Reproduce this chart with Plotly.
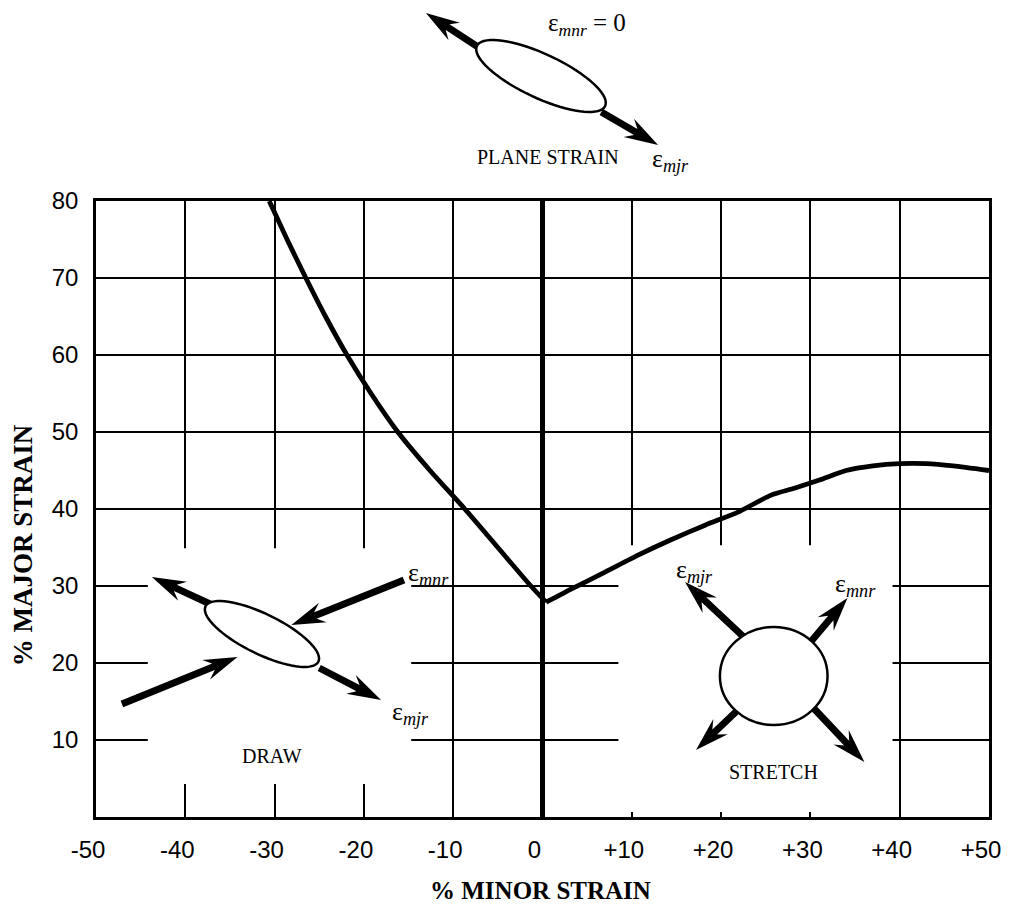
import numpy as np
import plotly.graph_objects as go

# forming limit curve, % minor strain vs % major strain
minor_strain = [-30.6, -28.6, -26.5, -24.3, -21.9, -19.2, -16.2, -12.6, -8.7, -5.0, -1.3, 0.4,
                3.2, 7.0, 10.7, 14.4, 18.2, 21.9, 25.6, 28.2, 31.1, 34.0, 37.0, 40.0, 43.0, 46.0, 50.0]
major_strain = [80.0, 75.0, 70.0, 65.0, 60.0, 55.0, 50.0, 45.0, 40.0, 35.0, 30.0, 27.9,
                29.6, 31.8, 34.0, 36.0, 37.9, 39.6, 41.8, 42.7, 43.8, 45.0, 45.6, 45.9, 45.9, 45.6, 45.0]
vertex = 11  # index of the plane-strain point

x_ticks = [-50, -40, -30, -20, -10, 0, 10, 20, 30, 40, 50]
x_tick_labels = ["-50", "-40", "-30", "-20", "-10", "0", "+10", "+20", "+30", "+40", "+50"]
y_ticks = [10, 20, 30, 40, 50, 60, 70, 80]
y_tick_labels = ["10", "20", "30", "40", "50", "60", "70", "80"]

# page body has an 8px margin, so the figure is offset by that much
OFF = 8
W, H = 1013 - OFF, 909 - OFF
L, R, T, B = 96, 992, 201, 817  # plot area in page pixels

SANS = "Liberation Sans, Arial, sans-serif"
SERIF = "Liberation Serif, Times New Roman, serif"


def px(x):
    return (x - L) / (R - L)


def py(y):
    return (B - y) / (B - T)


def to_path(points):
    return "M" + "L".join(f"{px(x):.5f},{py(y):.5f}" for x, y in points) + "Z"


def ellipse_path(cx, cy, a, b, deg):
    t = np.linspace(0, 2 * np.pi, 73)
    th = np.radians(deg)
    xs = cx + a * np.cos(t) * np.cos(th) - b * np.sin(t) * np.sin(th)
    ys = cy + a * np.cos(t) * np.sin(th) + b * np.sin(t) * np.cos(th)
    return to_path(list(zip(xs, ys)))


def arrow(tail, tip, head=34, half=10.5, notch=8, thick=3.5):
    """Filled barbed arrow, tail -> tip, in page pixels."""
    tail, tip = np.array(tail, float), np.array(tip, float)
    u = (tip - tail) / np.linalg.norm(tip - tail)
    n = np.array([-u[1], u[0]])
    join = tip - u * (head - notch)
    barb = tip - u * head
    pts = [tail + n * thick, join + n * thick, barb + n * half, tip,
           barb - n * half, join - n * thick, tail - n * thick]
    return dict(type="path", xref="paper", yref="paper", path=to_path(pts),
                fillcolor="black", line=dict(color="black", width=0))


def label(x, y, text, size=20, font=SERIF):
    return dict(
        x=px(x), y=py(y), xref="paper", yref="paper", text=text, showarrow=False,
        font=dict(family=font, size=size, color="black"), xanchor="center", yanchor="middle",
    )


eps_mnr = "ε<sub><i>mnr</i></sub>"
eps_mjr = "ε<sub><i>mjr</i></sub>"

fig = go.Figure()
for sl in (slice(0, vertex + 1), slice(vertex, None)):
    fig.add_trace(go.Scatter(
        x=minor_strain[sl], y=major_strain[sl], mode="lines",
        line=dict(color="black", width=4.8, shape="spline", smoothing=0.6),
        hoverinfo="skip", showlegend=False,
    ))

shapes = [
    # white holes in the grid behind the sketches
    dict(type="rect", xref="x", yref="y", x0=-44.2, x1=-14.7, y0=4.3, y1=34.9,
         fillcolor="white", line=dict(width=0), layer="between"),
    dict(type="rect", xref="x", yref="y", x0=8.5, x1=39.2, y0=0.6, y1=35.3,
         fillcolor="white", line=dict(width=0), layer="between"),
    # plane strain sketch
    arrow((487, 52), (427, 13)),
    arrow((603, 112), (660, 145)),
    dict(type="path", xref="paper", yref="paper", path=ellipse_path(542.5, 76, 71, 22, 25),
         line=dict(color="black", width=2.5), fillcolor="white"),
    # draw sketch
    arrow((217, 607), (152, 577)),
    arrow((405, 580), (292, 625)),
    arrow((122, 704), (238, 657)),
    arrow((320, 668), (382, 700)),
    dict(type="path", xref="paper", yref="paper", path=ellipse_path(262.5, 634, 63, 20, 26),
         line=dict(color="black", width=2.5), fillcolor="white"),
    # stretch sketch
    arrow((747, 638), (687, 582)),
    arrow((813, 642), (850, 598)),
    arrow((740, 710), (698, 750)),
    arrow((813, 705), (867, 762)),
    dict(type="circle", xref="paper", yref="paper", x0=px(722), x1=px(830), y0=py(725), y1=py(627),
         line=dict(color="black", width=2.5), fillcolor="white"),
]

annotations = [
    label(589, 25, eps_mnr + " = 0", 25),
    label(550, 157, "PLANE STRAIN", 20),
    label(672, 160, eps_mjr, 26),
    label(430, 574, eps_mnr, 26),
    label(412, 713, eps_mjr, 26),
    label(273, 756, "DRAW", 20),
    label(697, 571, eps_mjr, 26),
    label(858, 585, eps_mnr, 26),
    label(776, 772, "STRETCH", 20),
    # axis titles
    label(542, 890, "<b>% MINOR STRAIN</b>", 25),
    dict(x=px(23), y=py(545), xref="paper", yref="paper", text="<b>% MAJOR STRAIN</b>",
         showarrow=False, textangle=-90, xanchor="center", yanchor="middle",
         font=dict(family=SERIF, size=27, color="black")),
]

fig.update_layout(
    width=W, height=H,
    margin=dict(l=L - OFF, r=1013 - R, t=T - OFF, b=909 - B, pad=0),
    paper_bgcolor="white", plot_bgcolor="white",
    shapes=shapes, annotations=annotations,
    showlegend=False,
)
fig.update_xaxes(
    range=[-50, 50], tickvals=x_ticks, ticktext=x_tick_labels,
    showgrid=True, gridcolor="black", gridwidth=2,
    zeroline=True, zerolinecolor="black", zerolinewidth=5,
    showline=True, mirror=True, linecolor="black", linewidth=2.5,
    ticks="inside", ticklen=5, tickwidth=2, tickcolor="black",
    tickfont=dict(family=SANS, size=24, color="black"),
    ticklabelstandoff=9, ticklabelshift=-8,
)
fig.update_yaxes(
    range=[0, 80], tickvals=y_ticks, ticktext=y_tick_labels,
    showgrid=True, gridcolor="black", gridwidth=2, zeroline=False,
    showline=True, mirror=True, linecolor="black", linewidth=2.5,
    ticks="", tickfont=dict(family=SANS, size=24, color="black"),
    ticklabelstandoff=10,
)

fig.write_html("out.html")
